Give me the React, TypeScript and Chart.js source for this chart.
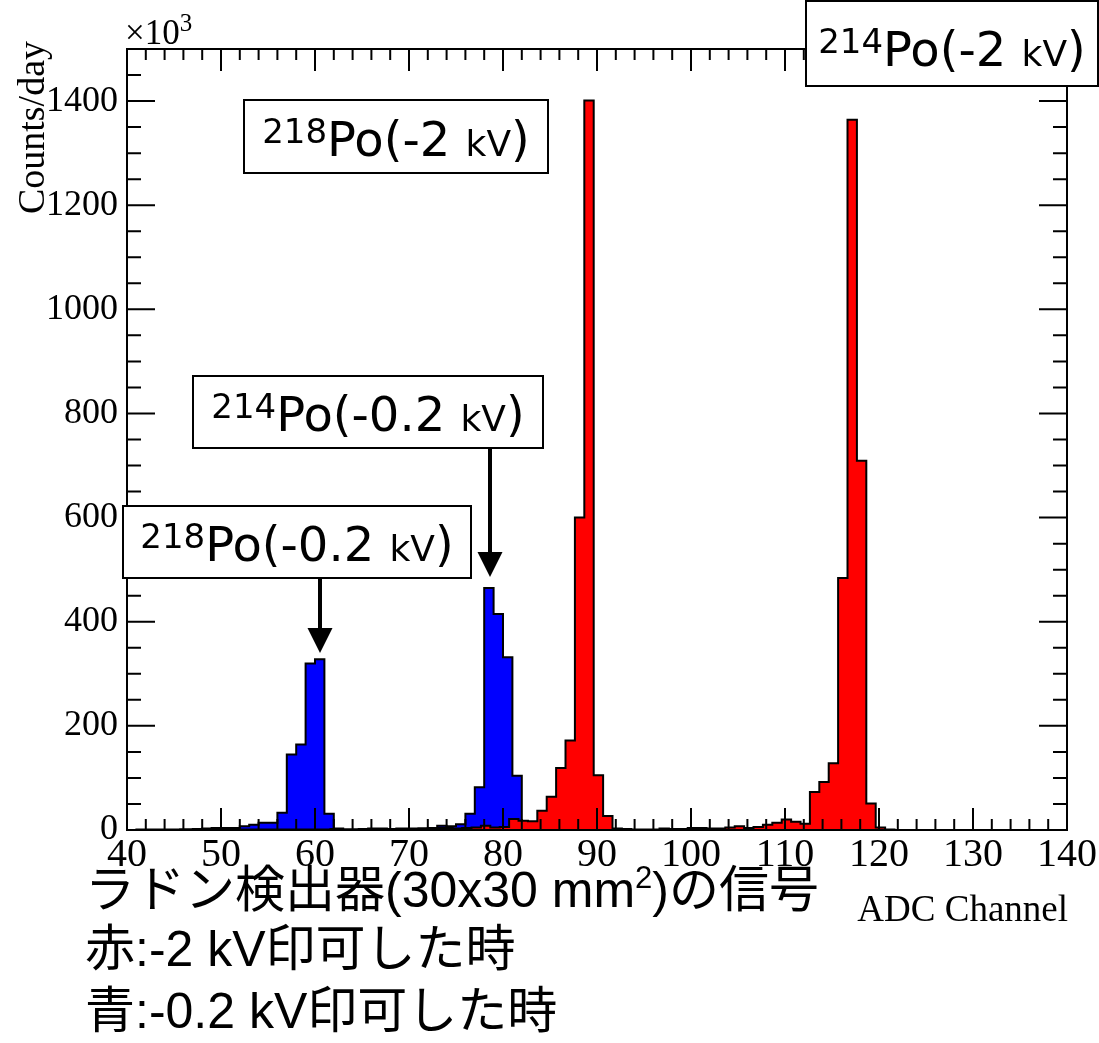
import React, { useEffect, useRef } from "react";
import { Chart, registerables } from "chart.js";

Chart.register(...registerables);

const CANVAS_W = 1099;
const CANVAS_H = 1043;

const FONT_SERIF = '"Liberation Serif", "Times New Roman", serif';
const FONT_SANS = '"DejaVu Sans", sans-serif';
const FONT_JP = '"Liberation Sans", "Noto Sans CJK JP", sans-serif';

// axis
const xTicks = [40, 50, 60, 70, 80, 90, 100, 110, 120, 130, 140];
const yTicks = [0, 200, 400, 600, 800, 1000, 1200, 1400];

// -0.2 kV (blue) histogram, 1-channel bins starting at channel 40
const blueFirstBin = 40;
const blueCounts = [
  0, 1, 1, 1, 1, 1, 1, 2, 3, 4, // 40-49
  4, 4, 7, 10, 14, 14, 33, 145, 164, 320, // 50-59
  328, 31, 3, 1, 1, 1, 1, 1, 2, 2, // 60-69
  2, 3, 4, 8, 7, 11, 31, 82, 465, 415, // 70-79
  332, 104, 5, 2, 2, 1, 1, 1, 0, 0, // 80-89
  0, 0, 0, 0, 0, 0, 0, 0, 0, 0, // 90-99
  0, 0, 0, 0, 0, 0, 0, 0, 0, 0, // 100-109
  0, 0, 0, 0, 0, 0, 0, 0, 0, 0, // 110-119
  0, 0, 0, 0, 0, 0, 0, 0, 0, 0, // 120-129
  0, 0, 0, 0, 0, 0, 0, 0, 0, 0, // 130-139
];

// -2 kV (red) histogram, 1-channel bins starting at channel 39.65
const redFirstBin = 39.65;
const redCounts = [
  0, // 39.65
  0, 0, 0, 0, 0, 1, 1, 1, 1, 1, // 40.65-49.65
  1, 1, 1, 1, 1, 1, 1, 1, 1, 1, // 50.65-59.65
  1, 2, 1, 1, 2, 3, 3, 2, 3, 3, // 60.65-69.65
  3, 3, 4, 4, 3, 4, 5, 8, 5, 6, // 70.65-79.65
  21, 18, 17, 37, 64, 119, 172, 600, 1401, 105, // 80.65-89.65
  27, 3, 2, 1, 1, 1, 3, 2, 2, 4, // 90.65-99.65
  4, 3, 3, 5, 7, 4, 6, 10, 14, 20, // 100.65-109.65
  16, 12, 73, 92, 128, 484, 1364, 709, 51, 5, // 110.65-119.65
  1, 0, 0, 0, 0, 0, 0, 0, 0, 0, // 120.65-129.65
  0, 0, 0, 0, 0, 0, 0, 0, 0, 0, // 130.65-139.65
];

type Seg = { t: string; size: number; rise?: number; font?: string };

const boxLabels: { box: [number, number, number, number]; base: number; segs: Seg[] }[] = [
  {
    box: [244, 100, 548, 173],
    base: 156,
    segs: [
      { t: "218", size: 34, rise: 13 },
      { t: "Po(-2 ", size: 48 },
      { t: "kV", size: 36 },
      { t: ")", size: 48 },
    ],
  },
  {
    box: [806, 1, 1098, 86],
    base: 66,
    segs: [
      { t: "214", size: 34, rise: 13 },
      { t: "Po(-2 ", size: 48 },
      { t: "kV", size: 36 },
      { t: ")", size: 48 },
    ],
  },
  {
    box: [193, 376, 543, 448],
    base: 431,
    segs: [
      { t: "214", size: 34, rise: 13 },
      { t: "Po(-0.2 ", size: 48 },
      { t: "kV", size: 36 },
      { t: ")", size: 48 },
    ],
  },
  {
    box: [123, 506, 471, 578],
    base: 561,
    segs: [
      { t: "218", size: 34, rise: 13 },
      { t: "Po(-0.2 ", size: 48 },
      { t: "kV", size: 36 },
      { t: ")", size: 48 },
    ],
  },
];

const arrows = [
  { x: 490, y1: 448, y2: 577 },
  { x: 320, y1: 578, y2: 653 },
];

const captionLines: { segs: Seg[]; base: number }[] = [
  {
    base: 907,
    segs: [
      { t: "ラドン検出器(30x30 mm", size: 50, font: FONT_JP },
      { t: "2", size: 31, rise: 19, font: FONT_JP },
      { t: ")の信号", size: 50, font: FONT_JP },
    ],
  },
  { base: 966, segs: [{ t: "赤:-2 kV印可した時", size: 50, font: FONT_JP }] },
  { base: 1028, segs: [{ t: "青:-0.2 kV印可した時", size: 50, font: FONT_JP }] },
];

function histPoints(first: number, counts: number[]) {
  const pts = counts.map((c, i) => ({ x: first + i, y: c }));
  pts.push({ x: first + counts.length, y: 0 });
  return pts;
}

function drawRich(ctx: CanvasRenderingContext2D, segs: Seg[], x: number, y: number, align: "left" | "center" | "right") {
  let total = 0;
  const widths = segs.map((s) => {
    ctx.font = `${s.size}px ${s.font || FONT_SANS}`;
    const w = ctx.measureText(s.t).width;
    total += w;
    return w;
  });
  let cx = align === "center" ? x - total / 2 : align === "right" ? x - total : x;
  ctx.textAlign = "left";
  ctx.textBaseline = "alphabetic";
  segs.forEach((s, i) => {
    ctx.font = `${s.size}px ${s.font || FONT_SANS}`;
    ctx.fillText(s.t, cx, y - (s.rise || 0));
    cx += widths[i];
  });
}

const decorPlugin = {
  id: "rootDecor",
  afterDatasetsDraw(chart: any) {
    const ctx: CanvasRenderingContext2D = chart.ctx;
    const { left, right, top, bottom } = chart.chartArea;
    const xs = chart.scales.x;
    const ys = chart.scales.y;
    ctx.save();
    ctx.strokeStyle = "#000";
    ctx.lineWidth = 2;
    // ticks x
    for (let v = xs.min; v <= xs.max + 1e-6; v += 2) {
      const px = xs.getPixelForValue(v);
      const major = Math.abs(v % 10) < 1e-6;
      const len = major ? 22 : 11;
      ctx.beginPath();
      ctx.moveTo(px, bottom);
      ctx.lineTo(px, bottom - len);
      ctx.moveTo(px, top);
      ctx.lineTo(px, top + len);
      ctx.stroke();
    }
    // ticks y
    for (let v = 0; v <= ys.max + 1e-6; v += 50) {
      const py = ys.getPixelForValue(v);
      const major = Math.abs(v % 200) < 1e-6;
      const len = major ? 28 : 14;
      ctx.beginPath();
      ctx.moveTo(left, py);
      ctx.lineTo(left + len, py);
      ctx.moveTo(right, py);
      ctx.lineTo(right - len, py);
      ctx.stroke();
    }
    ctx.strokeRect(left, top, right - left, bottom - top);

    // arrows
    ctx.fillStyle = "#000";
    arrows.forEach((a) => {
      ctx.lineWidth = 4;
      ctx.beginPath();
      ctx.moveTo(a.x, a.y1);
      ctx.lineTo(a.x, a.y2 - 20);
      ctx.stroke();
      ctx.beginPath();
      ctx.moveTo(a.x - 12.5, a.y2 - 25);
      ctx.lineTo(a.x + 12.5, a.y2 - 25);
      ctx.lineTo(a.x, a.y2);
      ctx.closePath();
      ctx.fill();
    });

    // label boxes
    boxLabels.forEach((b) => {
      const [x1, y1, x2, y2] = b.box;
      ctx.fillStyle = "#fff";
      ctx.fillRect(x1, y1, x2 - x1, y2 - y1);
      ctx.lineWidth = 2;
      ctx.strokeStyle = "#000";
      ctx.strokeRect(x1, y1, x2 - x1, y2 - y1);
      ctx.fillStyle = "#000";
      drawRich(ctx, b.segs, (x1 + x2) / 2, b.base, "center");
    });
    ctx.restore();
  },
  afterDraw(chart: any) {
    const ctx: CanvasRenderingContext2D = chart.ctx;
    const { left, right, top } = chart.chartArea;
    ctx.save();
    ctx.fillStyle = "#000";
    // x10^3
    drawRich(
      ctx,
      [
        { t: "×10", size: 35, font: FONT_SERIF },
        { t: "3", size: 25, rise: 13, font: FONT_SERIF },
      ],
      left - 2,
      top - 5,
      "left"
    );
    // y title
    ctx.save();
    ctx.translate(44, 41);
    ctx.rotate(-Math.PI / 2);
    ctx.font = `38px ${FONT_SERIF}`;
    ctx.textAlign = "right";
    ctx.textBaseline = "alphabetic";
    ctx.fillText("Counts/day", 0, 0);
    ctx.restore();
    // x title
    ctx.font = `37px ${FONT_SERIF}`;
    ctx.textAlign = "right";
    ctx.textBaseline = "alphabetic";
    ctx.fillText("ADC Channel", right + 1, 921);
    // captions
    captionLines.forEach((c) => drawRich(ctx, c.segs, 85, c.base, "left"));
    ctx.restore();
  },
};

export default function App() {
  const ref = useRef<HTMLCanvasElement>(null);
  useEffect(() => {
    if (!ref.current) return;
    const chart = new Chart(ref.current, {
      type: "line",
      data: {
        datasets: [
          {
            label: "-2 kV",
            data: histPoints(redFirstBin, redCounts),
            stepped: "before",
            fill: "origin",
            backgroundColor: "#ff0000",
            borderColor: "#000000",
            borderWidth: 2,
            pointRadius: 0,
            tension: 0,
          },
          {
            label: "-0.2 kV",
            data: histPoints(blueFirstBin, blueCounts),
            stepped: "before",
            fill: "origin",
            backgroundColor: "#0000ff",
            borderColor: "#000000",
            borderWidth: 2,
            pointRadius: 0,
            tension: 0,
          },
        ],
      },
      options: {
        responsive: false,
        animation: false,
        devicePixelRatio: 1,
        layout: { padding: { left: 0, top: 49, right: 32, bottom: 0 } },
        plugins: { legend: { display: false }, tooltip: { enabled: false } },
        scales: {
          x: {
            type: "linear",
            min: 40,
            max: 140,
            afterBuildTicks: (s: any) => {
              s.ticks = xTicks.map((v) => ({ value: v }));
            },
            afterFit: (s: any) => {
              s.height = CANVAS_H - 830;
            },
            grid: { display: false },
            border: { display: false },
            ticks: {
              autoSkip: false,
              maxRotation: 0,
              padding: -7,
              color: "#000",
              font: { family: FONT_SERIF, size: 40 },
              callback: (v: any) => String(v),
            },
          },
          y: {
            type: "linear",
            min: 0,
            max: 1500,
            afterBuildTicks: (s: any) => {
              s.ticks = yTicks.map((v) => ({ value: v }));
            },
            afterFit: (s: any) => {
              s.width = 127;
            },
            grid: { display: false },
            border: { display: false },
            ticks: {
              padding: 1,
              color: "#000",
              font: { family: FONT_SERIF, size: 36 },
              callback: (v: any) => String(v),
            },
          },
        },
      },
      plugins: [decorPlugin],
    });
    return () => chart.destroy();
  }, []);
  return (
    <div style={{ position: "fixed", left: 0, top: 0, width: CANVAS_W, height: CANVAS_H, background: "#fff" }}>
      <canvas ref={ref} width={CANVAS_W} height={CANVAS_H} style={{ width: CANVAS_W, height: CANVAS_H }} />
    </div>
  );
}
